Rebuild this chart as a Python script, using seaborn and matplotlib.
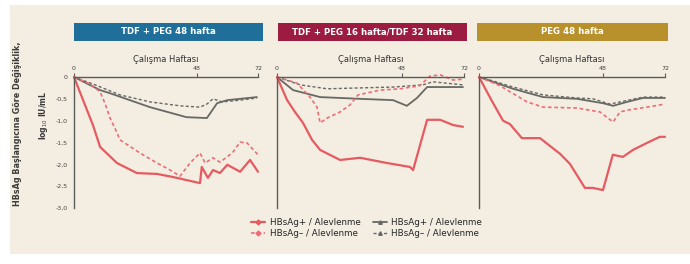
import matplotlib
matplotlib.use("Agg")
import matplotlib.pyplot as plt
import numpy as np
import pandas as pd
import seaborn as sns
from matplotlib.patches import Rectangle
from matplotlib.lines import Line2D

# ---------------- data ----------------
panel_titles = ["TDF + PEG 48 hafta", "TDF + PEG 16 hafta/TDF 32 hafta", "PEG 48 hafta"]
x_label = "Çalışma Haftası"
y_label_1 = "HBsAg Başlangıcına Göre Değişiklik,"
y_label_2 = "log$_{10}$ IU/mL"
x_ticks = [0, 48, 72]
y_ticks = [0, -0.5, -1.0, -1.5, -2.0, -2.5, -3.0]
y_tick_labels = ["0", "-0,5", "-1,0", "-1,5", "-2,0", "-2,5", "-3,0"]
series_names = ["HBsAg+ / Alevlenme", "HBsAg– / Alevlenme",
                "HBsAg+ / Alevlenme ", "HBsAg– / Alevlenme "]

# Panel 1
p1_rs_wk = [0, 4.3, 7.4, 10.2, 16.8, 24.6, 32.5, 38.7, 49.3, 50, 52.4, 54.4, 57.1, 60, 62.2, 65, 68.9, 72]
p1_rs_val = [0, -0.64, -1.1, -1.6, -1.97, -2.2, -2.22, -2.29, -2.43, -2.06, -2.31, -2.13, -2.2, -2.01, -2.08, -2.17, -1.9, -2.17]
p1_rd_wk = [0, 6.3, 10.2, 12.1, 14.1, 16, 18, 25.8, 32.5, 37.6, 41.5, 45.4, 49.3, 51.3, 54.4, 57.1, 59.9, 62.2, 65, 67.7, 72]
p1_rd_val = [0, -0.16, -0.34, -0.6, -0.94, -1.17, -1.44, -1.74, -1.97, -2.13, -2.27, -1.97, -1.74, -1.97, -1.85, -1.95, -1.83, -1.72, -1.49, -1.51, -1.78]
p1_gs_wk = [0, 10.2, 14, 29.7, 44, 52, 56, 60, 71.6]
p1_gs_val = [0, -0.3, -0.37, -0.69, -0.92, -0.94, -0.6, -0.53, -0.46]
p1_gd_wk = [0, 7.4, 18, 29.7, 41.5, 49.3, 52, 54.4, 58, 65, 71.6]
p1_gd_val = [0, -0.16, -0.41, -0.57, -0.66, -0.69, -0.62, -0.5, -0.57, -0.53, -0.48]

# Panel 2
p2_rs_wk = [0, 3.9, 6.9, 10, 13.5, 16.6, 24.3, 32, 42.4, 51.2, 52.4, 57.8, 62.8, 67.8, 71.6]
p2_rs_val = [0, -0.53, -0.8, -1.05, -1.44, -1.67, -1.9, -1.85, -1.97, -2.06, -2.13, -0.98, -0.98, -1.1, -1.14]
p2_rd_wk = [0, 7.7, 12.7, 15.4, 16.6, 19.3, 24.3, 28.1, 31.2, 39.7, 47.4, 55, 58.9, 62.8, 67.8, 71.6]
p2_rd_val = [0, -0.14, -0.46, -0.69, -1.05, -0.94, -0.8, -0.64, -0.41, -0.3, -0.27, -0.2, 0.02, 0.05, -0.07, -0.05]
p2_gs_wk = [0, 6.2, 16.6, 32, 44.7, 50, 53.9, 57.8, 62.8, 71.6]
p2_gs_val = [0, -0.3, -0.46, -0.5, -0.53, -0.66, -0.48, -0.23, -0.23, -0.23]
p2_gd_wk = [0, 8.9, 19.3, 32, 44.7, 56.2, 60, 71.6]
p2_gd_val = [0, -0.18, -0.27, -0.25, -0.23, -0.18, -0.11, -0.18]

# Panel 3
p3_rs_wk = [0, 5, 9.3, 12, 16.6, 23.6, 31.4, 35.2, 41, 44.1, 48, 51.8, 55.7, 59.6, 65, 70, 72]
p3_rs_val = [0, -0.55, -1.0, -1.08, -1.4, -1.4, -1.76, -1.99, -2.54, -2.54, -2.59, -1.78, -1.83, -1.67, -1.51, -1.37, -1.37]
p3_rd_wk = [0, 8.1, 18.6, 24.8, 37.9, 46.8, 49.9, 51.9, 54.6, 57.3, 65, 72]
p3_rd_val = [0, -0.2, -0.57, -0.69, -0.71, -0.8, -0.94, -1.03, -0.8, -0.76, -0.69, -0.62]
p3_gs_wk = [0, 5.4, 13.2, 24.8, 37.9, 48, 51.9, 57.3, 63.5, 72]
p3_gs_val = [0, -0.11, -0.27, -0.46, -0.5, -0.6, -0.66, -0.57, -0.48, -0.48]
p3_gd_wk = [0, 5.4, 13.2, 24.8, 37.9, 44.1, 50.7, 63.5, 72]
p3_gd_val = [0, -0.09, -0.23, -0.41, -0.48, -0.5, -0.62, -0.46, -0.46]

panels = [
    [(p1_rs_wk, p1_rs_val), (p1_rd_wk, p1_rd_val), (p1_gs_wk, p1_gs_val), (p1_gd_wk, p1_gd_val)],
    [(p2_rs_wk, p2_rs_val), (p2_rd_wk, p2_rd_val), (p2_gs_wk, p2_gs_val), (p2_gd_wk, p2_gd_val)],
    [(p3_rs_wk, p3_rs_val), (p3_rd_wk, p3_rd_val), (p3_gs_wk, p3_gs_val), (p3_gd_wk, p3_gd_val)],
]

# ---------------- style ----------------
BG = "#f3ede2"
RED = "#e65a60"
RED_L = "#ea6f76"
GRAY = "#686864"
AX = "#5c5c58"
title_colors = ["#1f6f9a", "#9b1c40", "#b8902c"]
palette = {series_names[0]: RED, series_names[1]: RED_L, series_names[2]: GRAY, series_names[3]: GRAY}
dashes = {series_names[0]: "", series_names[1]: (2.2, 1.6), series_names[2]: "", series_names[3]: (2.2, 1.6)}
sizes = {series_names[0]: 1.6, series_names[1]: 1.2, series_names[2]: 1.3, series_names[3]: 1.0}

sns.set_theme(style="white")
plt.rcParams["font.family"] = ["DejaVu Sans"]

W, H = 690, 264
fig = plt.figure(figsize=(W / 100, H / 100), dpi=100, facecolor="white")

def fx(px):
    return px / W

def fy(py):
    return 1 - py / H

# beige card
fig.patches.append(Rectangle((fx(10), fy(254)), fx(690) - fx(10), fy(5) - fy(254),
                             transform=fig.transFigure, facecolor=BG, edgecolor="none", zorder=-10))

ax_px = [(74, 258), (277, 464), (479, 665)]
box_px = [(74, 263), (278, 467), (477, 668)]
y_top, y_bot = 77, 208

for i, (series, (l, r), (bl, br)) in enumerate(zip(panels, ax_px, box_px)):
    ax = fig.add_axes([fx(l), fy(y_bot), fx(r) - fx(l), fy(y_top) - fy(y_bot)])
    ax.set_zorder(5)
    ax.set_facecolor("none")
    rows = []
    for name, (wk, val) in zip(series_names, series):
        for w_, v_ in zip(wk, val):
            rows.append({"week": w_, "value": v_, "series": name})
    df = pd.DataFrame(rows)
    sns.lineplot(data=df, x="week", y="value", hue="series", style="series", size="series",
                 palette=palette, dashes=dashes, sizes=sizes, hue_order=series_names[::-1],
                 estimator=None, sort=False, legend=False, ax=ax)
    for ln in ax.get_lines():
        ln.set_clip_on(False)
    ax.set_xlim(0, 72)
    ax.set_ylim(-3.0, 0)
    ax.set_xlabel("")
    ax.set_ylabel("")
    for s in ["right", "bottom"]:
        ax.spines[s].set_visible(False)
    for s in ["top", "left"]:
        ax.spines[s].set_color(AX)
        ax.spines[s].set_linewidth(1.0)
    ax.xaxis.tick_top()
    ax.set_xticks(x_ticks)
    ax.set_xticklabels([str(t) for t in x_ticks])
    ax.set_yticks(y_ticks)
    if i == 0:
        ax.set_yticklabels(y_tick_labels)
    else:
        ax.set_yticklabels([])
    ax.tick_params(axis="x", direction="out", length=3, width=0.8, color=AX, labelsize=4.5,
                   labelcolor="#444444", pad=1)
    ax.tick_params(axis="y", direction="out", length=3, width=0.8, color=AX, labelsize=4.5,
                   labelcolor="#444444", pad=1.5)

    # title box
    fig.patches.append(Rectangle((fx(bl), fy(41)), fx(br) - fx(bl), fy(23) - fy(41),
                                 transform=fig.transFigure, facecolor=title_colors[i],
                                 edgecolor="none", zorder=1))
    fig.text(fx((bl + br) / 2), fy(32), panel_titles[i], ha="center", va="center",
             color="white", fontsize=6.2, fontweight="bold", zorder=2)
    fig.text(fx((l + r) / 2), fy(59), x_label, ha="center", va="center",
             color="#333333", fontsize=6)

fig.text(fx(18), fy(124), y_label_1, rotation=90, ha="center", va="center",
         color="#3a3a3a", fontsize=5.8, fontweight="bold")
fig.text(fx(43), fy(115), y_label_2, rotation=90, ha="center", va="center",
         color="#3a3a3a", fontsize=5.5, fontweight="bold")

handles = [
    Line2D([0], [0], color=RED, lw=1.6, marker="D", markersize=2.5),
    Line2D([0], [0], color=RED_L, lw=1.2, ls=(0, (2.2, 1.6)), marker="D", markersize=2.5),
    Line2D([0], [0], color=GRAY, lw=1.3, marker="^", markersize=2.5),
    Line2D([0], [0], color=GRAY, lw=1.0, ls=(0, (2.2, 1.6)), marker="^", markersize=2.5),
]
fig.legend(handles, series_names, ncol=2, loc="center", bbox_to_anchor=(fx(368), fy(228)),
           frameon=False, fontsize=6.3, handlelength=1.6, handletextpad=0.5,
           columnspacing=1.4, labelspacing=0.2, borderpad=0)

fig.savefig("out.png", dpi=100, facecolor="white")
